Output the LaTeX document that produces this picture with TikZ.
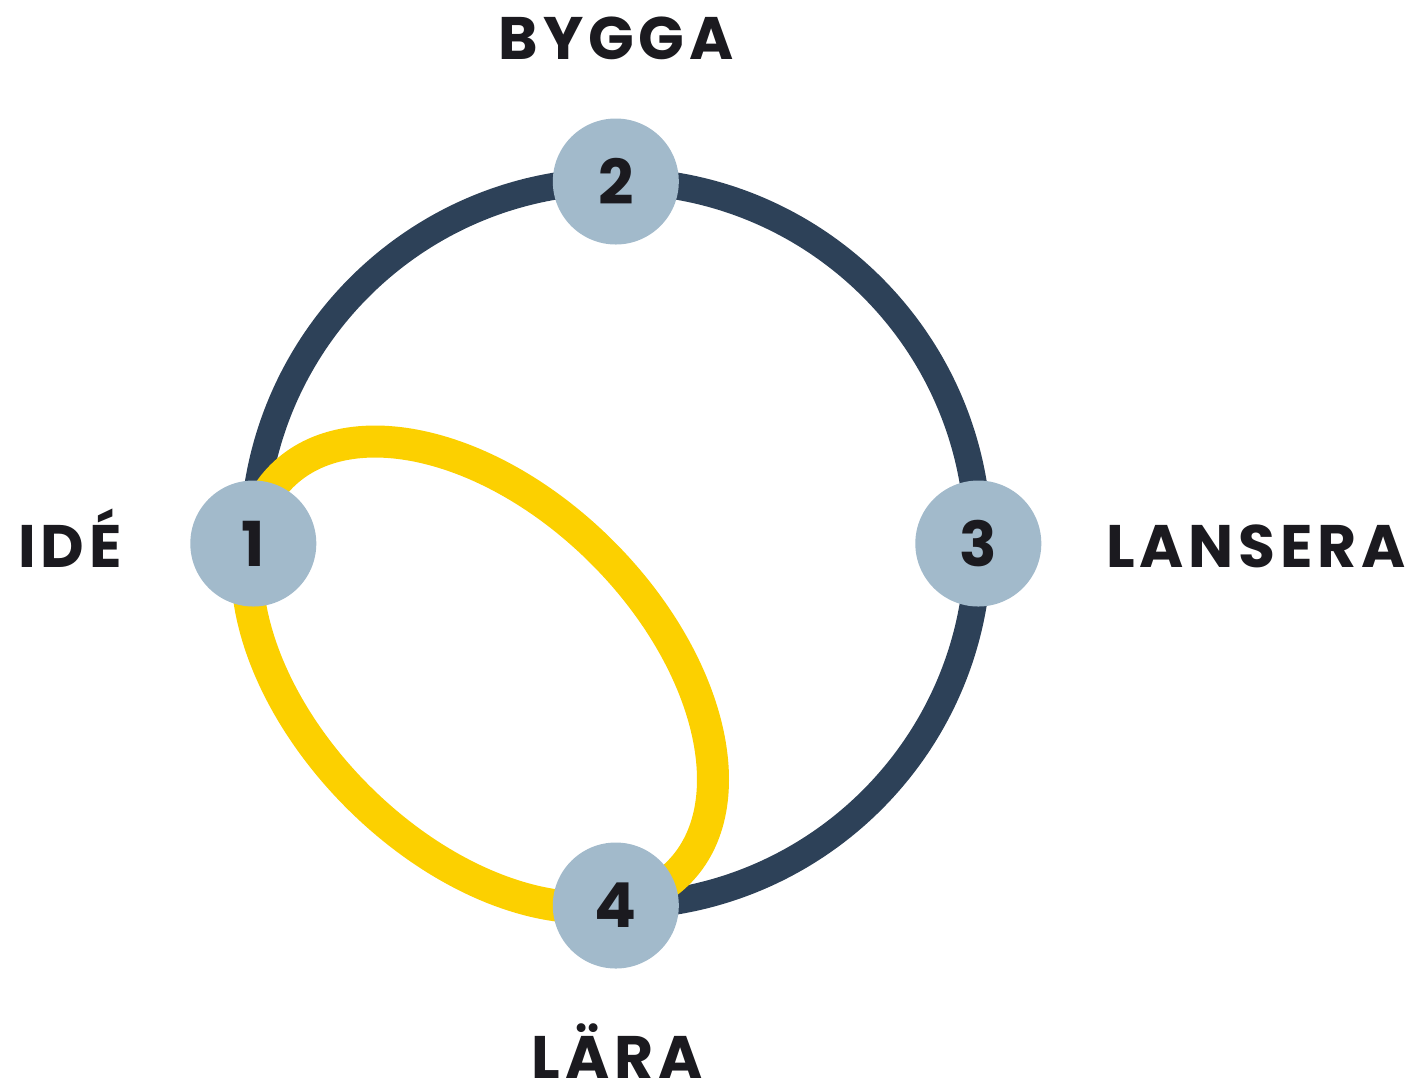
\documentclass[tikz,border=0pt]{standalone}
\usepackage{fontspec}
\newfontfamily\phasefont{Poppins}[UprightFont=* Bold, LetterSpace=8]
\newfontfamily\digitfont{Poppins}[UprightFont=* Bold]
\definecolor{ringnavy}{HTML}{2D4158}
\definecolor{loopyellow}{HTML}{FCD000}
\definecolor{stageblue}{HTML}{A2BACB}
\definecolor{ink}{HTML}{1B1A1F}
\begin{document}
\begin{tikzpicture}[x=0.5pt,y=-0.5pt,
  stage/.style={circle, fill=stageblue, minimum size=63pt, inner sep=0pt,
    text=ink, font=\digitfont\fontsize{31}{31}\selectfont},
  phase/.style={inner sep=0pt, text=ink, font=\phasefont\fontsize{30}{30}\selectfont}]
\useasboundingbox (0,0) rectangle (1422,1089);

% stage positions on the main cycle
\coordinate (p1) at (253.3,543.5);
\coordinate (p2) at (615.8,181.5);
\coordinate (p3) at (978.3,543.5);
\coordinate (p4) at (615.8,905.5);

% main cycle: idea -> build -> launch -> learn
\draw[ringnavy, line width=13.5pt] (p1) arc [start angle=180, end angle=-90, radius=181.25pt];

% learning loop between idea and learning
\coordinate (loopc) at (480,674.5);
\draw[loopyellow, line width=16pt, rotate around={-45:(loopc)}]
  (loopc) ellipse [x radius=140.25pt, y radius=86.4pt];

% stages
\node[stage] (s1) at (p1) {1};
\node[stage] (s2) at (p2) {2};
\node[stage] (s3) at (p3) {3};
\node[stage] (s4) at (p4) {4};

% stage names
\node[phase, anchor=base] (t2) at (616,59) {BYGGA};
\node[phase, anchor=base west] (t1) at (18,567) {IDÉ};
\node[phase, anchor=base west] (t3) at (1106,567) {LANSERA};
\node[phase, anchor=base] (t4) at (617,1078) {LÄRA};
\end{tikzpicture}
\end{document}
